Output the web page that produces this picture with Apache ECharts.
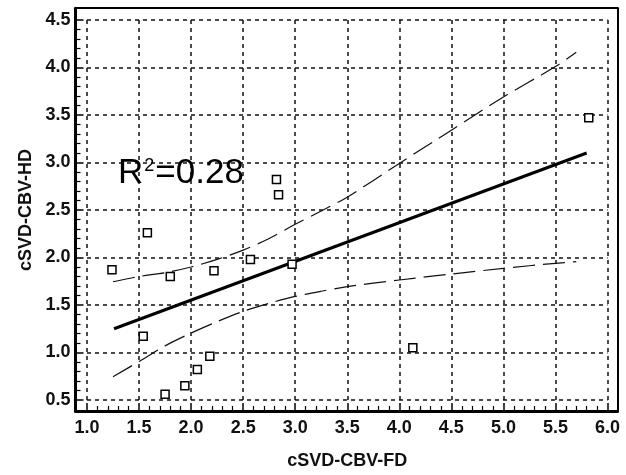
<!DOCTYPE html>
<html>
<head>
<meta charset="utf-8">
<script src="https://cdn.jsdelivr.net/npm/echarts@6/dist/echarts.min.js"></script>
<style>
  html, body { margin: 0; padding: 0; background: #fff; }
  #chart { width: 626px; height: 475px; }
</style>
</head>
<body>
<div id="chart"></div>
<script>
// Paired measurements: FD value (x) and HD value (y) per subject
const fdValues = [1.24, 1.58, 1.80, 2.22, 2.57, 2.97, 1.54, 2.18, 2.06, 1.94, 1.75, 2.82, 2.84, 4.13, 5.82];
const hdValues = [1.87, 2.26, 1.80, 1.86, 1.98, 1.93, 1.17, 0.96, 0.82, 0.65, 0.56, 2.82, 2.66, 1.05, 3.47];

// Least-squares fit line, end points
const fitX = [1.26, 5.80];
const fitY = [1.25, 3.10];

// 95% confidence band around the fit, sampled along x
const bandX     = [1.25, 1.5, 1.75, 2.0, 2.25, 2.5, 2.75, 3.0, 3.25, 3.5, 4.0, 4.5, 5.0, 5.5, 5.7];
const bandUpper = [1.745, 1.80, 1.84, 1.90, 1.98, 2.078, 2.20, 2.35, 2.49, 2.635, 2.99, 3.34, 3.69, 4.01, 4.16];
const bandLower = [0.745, 0.905, 1.07, 1.205, 1.325, 1.433, 1.518, 1.59, 1.645, 1.693, 1.763, 1.826, 1.886, 1.939, 1.956];

// Axis ranges and tick step
const xRange = [1.0, 6.0];
const yRange = [0.5, 4.5];
const tickStep = 0.5;

const rSquaredLabel = '0.28';
const xTitle = 'cSVD-CBV-FD';
const yTitle = 'cSVD-CBV-HD';

const FONT = '"Liberation Sans", Arial, Helvetica, sans-serif';
const zip = (a, b) => a.map((v, i) => [v, b[i]]);

const chart = echarts.init(document.getElementById('chart'), null, { renderer: 'canvas' });

const tickLabel = {
  fontSize: 18, fontWeight: 'bold', fontFamily: FONT, color: '#111',
  formatter: v => v.toFixed(1)
};
const titleStyle = { fontSize: 18, fontWeight: 'bold', fontFamily: FONT, color: '#111' };
const gridDash = { show: true, lineStyle: { color: '#111', width: 1.5, type: [4, 4] } };
const majorTick = { show: true, inside: true, length: 8, lineStyle: { color: '#000', width: 1.5 } };
const minorTick = { show: true, splitNumber: 5, length: 5, lineStyle: { color: '#000', width: 1.2 } };

// Frame axes (outer box): only the lines are drawn
const frameAxis = (pos, width, gridIndex) => ({
  gridIndex, type: 'value', min: 0, max: 1, position: pos,
  axisLine: { show: true, onZero: false, lineStyle: { color: '#000', width } },
  axisTick: { show: false }, axisLabel: { show: false }, splitLine: { show: false }
});

const option = {
  animation: false,
  backgroundColor: '#fff',
  grid: [
    { left: 87, right: 18.5, top: 20, bottom: 75 },
    { left: 75.5, right: 8.5, top: 8.2, bottom: 64 }
  ],
  xAxis: [
    {
      gridIndex: 0, type: 'value', min: xRange[0], max: xRange[1], interval: tickStep,
      position: 'bottom', offset: 11,
      axisLine: { show: false, onZero: false },
      axisTick: majorTick, minorTick: minorTick, splitLine: gridDash,
      axisLabel: Object.assign({ margin: 8 }, tickLabel),
      name: xTitle, nameLocation: 'middle', nameGap: 41, nameTextStyle: titleStyle
    },
    frameAxis('bottom', 3, 1),
    frameAxis('top', 2, 1)
  ],
  yAxis: [
    {
      gridIndex: 0, type: 'value', min: yRange[0], max: yRange[1], interval: tickStep,
      position: 'left', offset: 11.5,
      axisLine: { show: false, onZero: false },
      axisTick: majorTick, minorTick: minorTick, splitLine: gridDash,
      axisLabel: Object.assign({ margin: 5 }, tickLabel),
      name: yTitle, nameLocation: 'middle', nameGap: 40, nameTextStyle: titleStyle
    },
    frameAxis('left', 3, 1),
    frameAxis('right', 2, 1)
  ],
  series: [
    {
      type: 'line', xAxisIndex: 0, yAxisIndex: 0, data: zip(bandX, bandUpper),
      smooth: 0.3, symbol: 'none', silent: true,
      lineStyle: { color: '#111', width: 1.2, type: [22, 8] }, z: 3
    },
    {
      type: 'line', xAxisIndex: 0, yAxisIndex: 0, data: zip(bandX, bandLower),
      smooth: 0.3, symbol: 'none', silent: true,
      lineStyle: { color: '#111', width: 1.2, type: [22, 8] }, z: 3
    },
    {
      type: 'line', xAxisIndex: 0, yAxisIndex: 0, data: zip(fitX, fitY),
      symbol: 'none', silent: true,
      lineStyle: { color: '#000', width: 3 }, z: 4
    },
    {
      type: 'scatter', xAxisIndex: 0, yAxisIndex: 0, data: zip(fdValues, hdValues),
      symbol: 'rect', symbolSize: 8,
      itemStyle: { color: '#fff', borderColor: '#000', borderWidth: 1.5, opacity: 1 }, z: 5
    }
  ],
  graphic: [
    {
      type: 'text', left: 118, top: 156, z: 100,
      style: {
        text: '{r|R}{s|2}{r|=' + rSquaredLabel + '}',
        rich: {
          r: { fontSize: 35, fontFamily: FONT, fill: '#000' },
          s: { fontSize: 18, fontFamily: FONT, fill: '#000', verticalAlign: 'top', padding: [1, 1, 0, 1] }
        }
      }
    }
  ]
};

chart.setOption(option);
</script>
</body>
</html>
